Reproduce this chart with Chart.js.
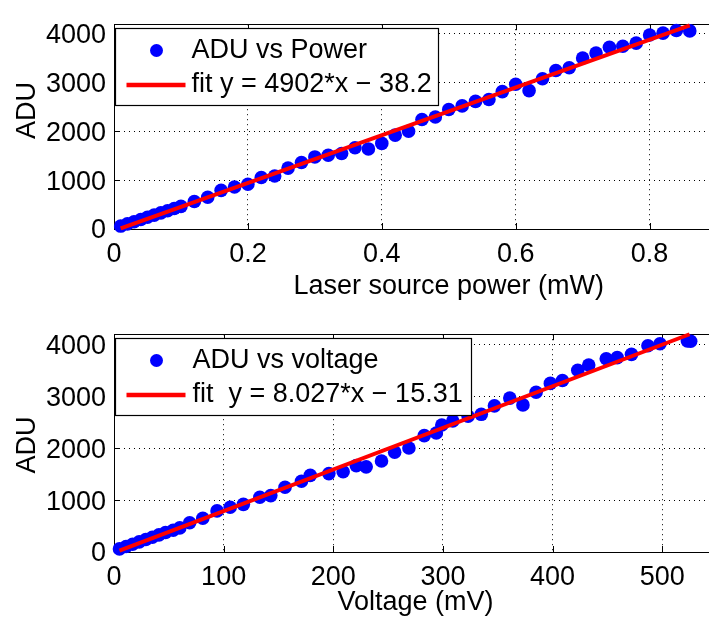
<!DOCTYPE html>
<html lang="en">
<head>
<meta charset="UTF-8">
<title>ADU vs power / voltage</title>
<script src="https://cdn.jsdelivr.net/npm/chart.js"></script>
<style>
  html, body { margin: 0; padding: 0; background: #fff; }
  body { width: 709px; height: 622px; overflow: hidden; position: relative; }
  canvas { position: absolute; left: 0; }
  #chart-power { top: 0; }
  #chart-volt { top: 310px; }
</style>
</head>
<body>
<canvas id="chart-power" width="800" height="310"></canvas>
<canvas id="chart-volt" width="740" height="312"></canvas>

<script>
// ---- values ----
const powerMW = [0.01, 0.02, 0.03, 0.04, 0.05, 0.06, 0.07, 0.08, 0.09, 0.10,
  0.12, 0.14, 0.16, 0.18, 0.20, 0.22, 0.24, 0.26, 0.28, 0.30, 0.32, 0.34, 0.36, 0.38, 0.40,
  0.42, 0.44, 0.46, 0.48, 0.50, 0.52, 0.54, 0.56, 0.58, 0.60, 0.62, 0.64, 0.66, 0.68, 0.70,
  0.72, 0.74, 0.76, 0.78, 0.80, 0.82, 0.84, 0.86];
const voltageMV = [5, 11, 17, 23, 29, 35, 41, 47, 54, 60,
  69, 81, 94, 106, 118, 133, 143, 156, 171, 179, 196, 209, 221, 230, 244,
  256, 269, 283, 294, 299, 309, 323, 335, 347, 361, 373, 385, 398, 409, 423,
  433, 449, 459, 472, 487, 498, 523, 526];
const adu = [60, 105, 150, 195, 240, 285, 330, 375, 420, 465,
  563, 652, 793, 862, 919, 1057, 1088, 1249, 1365, 1478, 1512, 1547, 1666, 1642, 1755,
  1925, 2006, 2245, 2296, 2450, 2525, 2617, 2655, 2818, 2968, 2837, 3081, 3251, 3308, 3506,
  3607, 3726, 3748, 3811, 3978, 4016, 4072, 4063];

// fitted lines (end points)
const fitPowerX = [0.01, 0.86];
const fitPowerY = [11, 4177];
const fitVoltX = [5, 525];
const fitVoltY = [25, 4199];

// tick labels
const powerTicks = [0, 0.2, 0.4, 0.6, 0.8, 1];
const voltTicks = [0, 100, 200, 300, 400, 500];
const aduTicks = [0, 1000, 2000, 3000, 4000];

const FONT = 'Liberation Sans, Arial, Helvetica, sans-serif';
const FS = 27;

function pts(xs, ys) { return xs.map((v, i) => ({ x: v, y: ys[i] })); }

// MATLAB-ish axes: box, inward ticks, y label, legend inside the axes
const matlabAxes = {
  id: 'matlabAxes',
  beforeDatasetsDraw(chart) {
    const { ctx, chartArea: a, scales: { x, y } } = chart;
    ctx.save();
    ctx.strokeStyle = '#000';
    ctx.lineWidth = 1;
    ctx.beginPath();
    x.ticks.forEach(t => {
      const px = Math.round(x.getPixelForValue(t.value)) + 0.5;
      ctx.moveTo(px, a.bottom); ctx.lineTo(px, a.bottom - 6);
      ctx.moveTo(px, a.top); ctx.lineTo(px, a.top + 6);
    });
    y.ticks.forEach(t => {
      const py = Math.round(y.getPixelForValue(t.value)) + 0.5;
      ctx.moveTo(a.left, py); ctx.lineTo(a.left + 6, py);
      ctx.moveTo(a.right, py); ctx.lineTo(a.right - 6, py);
    });
    ctx.stroke();
    ctx.strokeRect(Math.round(a.left) + 0.5, Math.round(a.top) + 0.5,
                   Math.round(a.width), Math.round(a.height));
    ctx.restore();
  },
  afterDraw(chart, args, o) {
    const { ctx, chartArea: a } = chart;
    ctx.save();
    // y axis label
    ctx.font = FS + 'px ' + FONT;
    ctx.fillStyle = '#000';
    ctx.textAlign = 'center';
    ctx.textBaseline = 'middle';
    ctx.translate(a.left - 86, (a.top + a.bottom) / 2 + o.yLabelShift);
    ctx.rotate(-Math.PI / 2);
    ctx.fillText(o.yLabel, 0, 0);
    ctx.restore();

    // legend box
    const ds = chart.data.datasets;
    const scatter = ds.find(d => d.type === 'scatter');
    const fit = ds.find(d => d.type === 'line');
    ctx.save();
    ctx.font = FS + 'px ' + FONT;
    const tw = Math.max(ctx.measureText(scatter.label).width, ctx.measureText(fit.label).width);
    const bx = Math.round(a.left) + 1.5, by = Math.round(a.top) + 4.5;
    const bw = Math.round(o.textX + tw + o.padRight), bh = 77;
    ctx.fillStyle = '#fff';
    ctx.fillRect(bx, by, bw, bh);
    ctx.strokeStyle = '#000';
    ctx.lineWidth = 1.2;
    ctx.strokeRect(bx, by, bw, bh);

    ctx.fillStyle = scatter.backgroundColor;
    ctx.beginPath();
    ctx.arc(bx + o.markX, by + 22, 6.5, 0, Math.PI * 2);
    ctx.fill();

    ctx.strokeStyle = fit.borderColor;
    ctx.lineWidth = 4.5;
    ctx.beginPath();
    ctx.moveTo(bx + o.lineX0, by + 56.5);
    ctx.lineTo(bx + o.lineX1, by + 56.5);
    ctx.stroke();

    ctx.fillStyle = '#000';
    ctx.textAlign = 'left';
    ctx.textBaseline = 'middle';
    ctx.fillText(scatter.label, bx + o.textX, by + 22);
    ctx.fillText(fit.label, bx + o.textX, by + 56);
    ctx.restore();
  }
};

function makeChart(id, xs, ys, fx, fy, xTicks, xMax, xTitle, labels, pad, xH, xTitlePad, legendOpt) {
  return new Chart(document.getElementById(id), {
    data: {
      datasets: [
        {
          type: 'line', label: labels[1], data: pts(fx, fy),
          borderColor: '#ff0000', borderWidth: 4, pointRadius: 0,
          fill: false, order: 0, clip: false
        },
        {
          type: 'scatter', label: labels[0], data: pts(xs, ys),
          backgroundColor: '#0000ff', borderWidth: 0, pointRadius: 6.8,
          pointHoverRadius: 6.8, order: 1, clip: false
        }
      ]
    },
    options: {
      responsive: false,
      animation: false,
      events: [],
      layout: { padding: pad },
      plugins: {
        legend: { display: false },
        tooltip: { enabled: false },
        matlabAxes: legendOpt
      },
      scales: {
        x: {
          type: 'linear', min: 0, max: xMax,
          afterBuildTicks: s => { s.ticks = xTicks.map(v => ({ value: v })); },
          afterFit: s => { s.height = xH; },
          grid: { color: '#000', lineWidth: 1, drawTicks: false },
          border: { display: false, dash: [1, 4] },
          ticks: { padding: 9, maxRotation: 0, color: '#000', font: { family: FONT, size: FS },
                   callback: v => String(v) },
          title: { display: true, text: xTitle, color: '#000',
                   font: { family: FONT, size: FS }, padding: { top: 0, bottom: xTitlePad } }
        },
        y: {
          type: 'linear', min: 0, max: 4200,
          afterBuildTicks: s => { s.ticks = aduTicks.map(v => ({ value: v })); },
          afterFit: s => { s.width = 114; },
          grid: { color: '#000', lineWidth: 1, drawTicks: false },
          border: { display: false, dash: [1, 4] },
          ticks: { padding: 8, labelOffset: 2, color: '#000', font: { family: FONT, size: FS },
                   callback: v => String(v) }
        }
      }
    },
    plugins: [matlabAxes]
  });
}

makeChart('chart-power', powerMW, adu, fitPowerX, fitPowerY, powerTicks, 1,
  'Laser source power (mW)', ['ADU vs Power', 'fit y = 4902*x \u2212 38.2'],
  { top: 6, right: 16, bottom: 0, left: 0 }, 81, 7,
  { yLabel: 'ADU', yLabelShift: -16, markX: 41, lineX0: 11, lineX1: 70, textX: 76, padRight: 7 });

makeChart('chart-volt', voltageMV, adu, fitVoltX, fitVoltY, voltTicks, 550,
  'Voltage (mV)', ['ADU vs voltage', 'fit  y = 8.027*x \u2212 15.31'],
  { top: 19, right: 23, bottom: 0, left: 0 }, 70, 3,
  { yLabel: 'ADU', yLabelShift: 2, markX: 41, lineX0: 11, lineX1: 70, textX: 77, padRight: 9 });
</script>
</body>
</html>
